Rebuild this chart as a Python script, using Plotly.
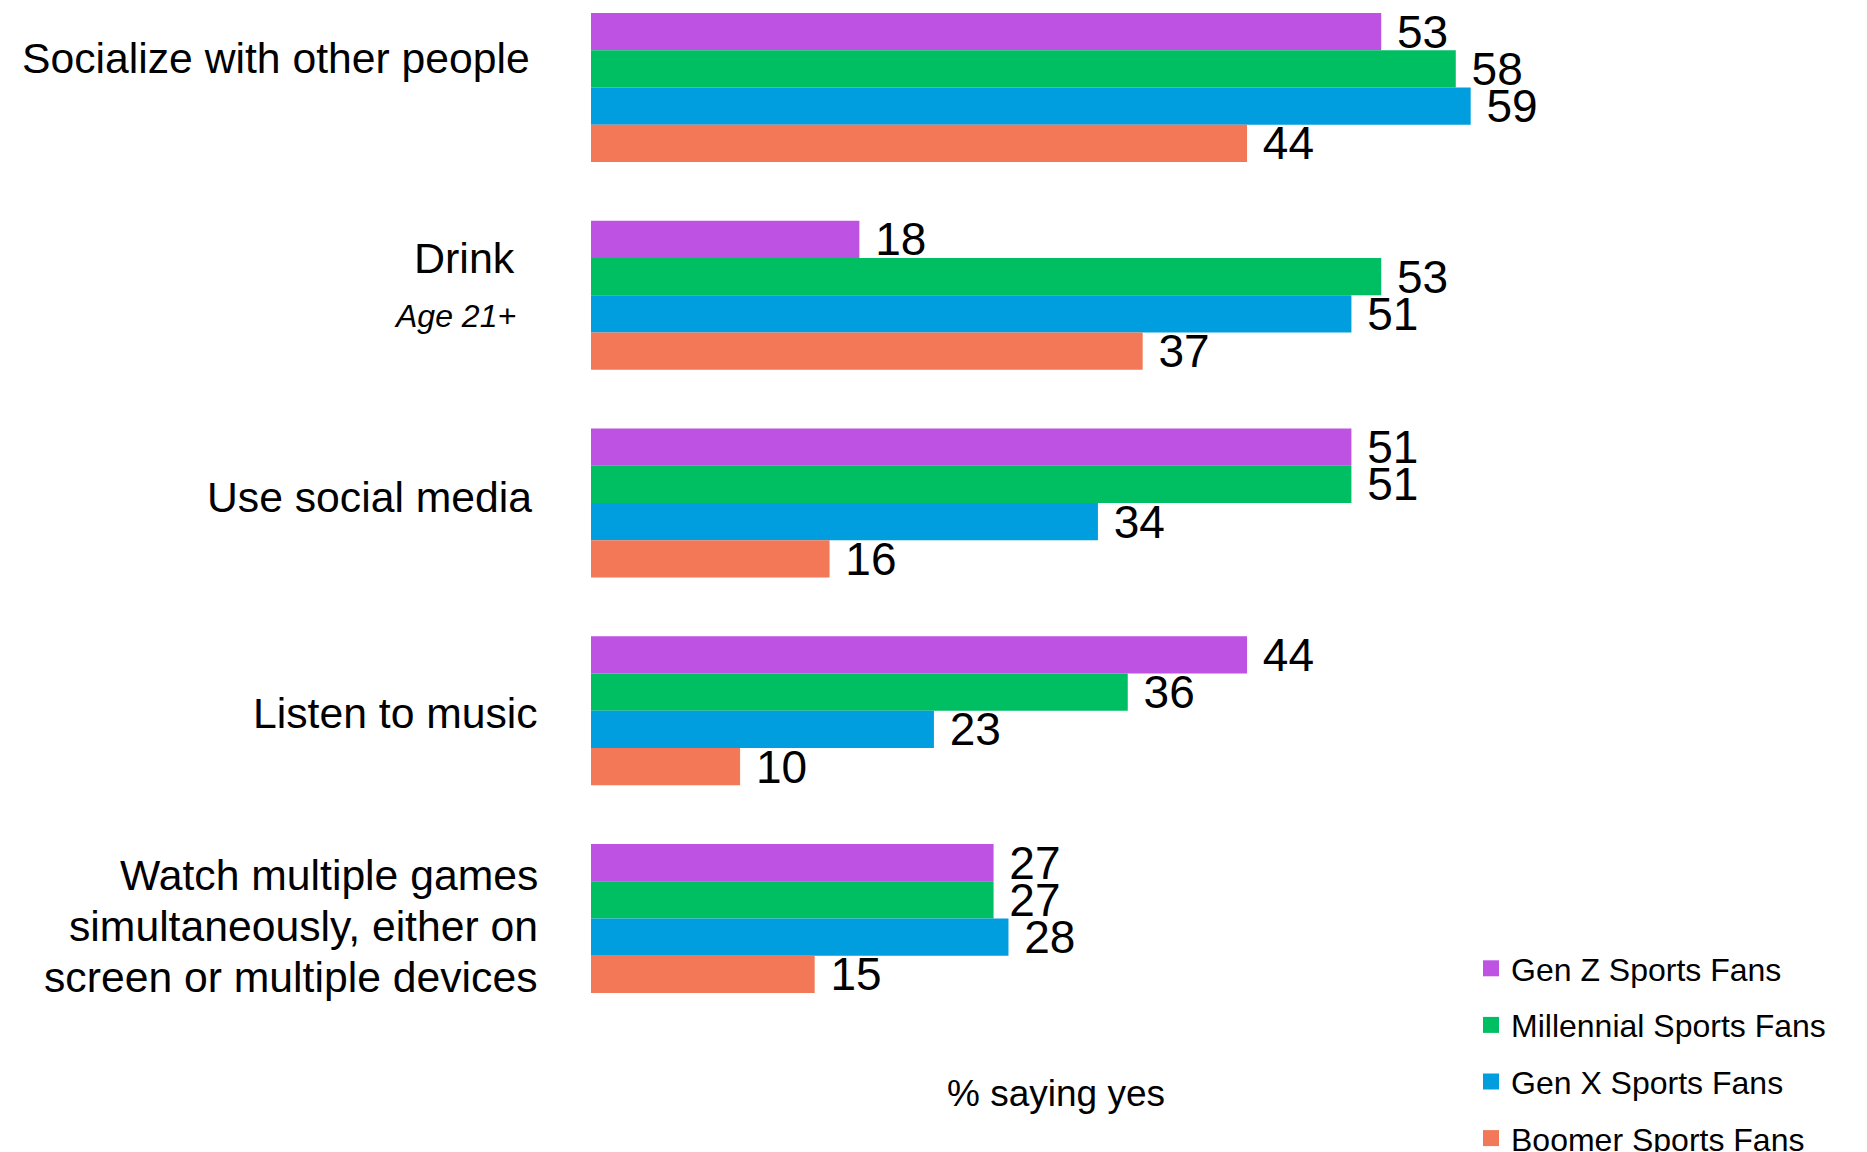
import plotly.graph_objects as go

categories = [
    "Socialize with other people",
    "Drink",
    "Use social media",
    "Listen to music",
    "Watch multiple games<br>simultaneously, either on<br>screen or multiple devices",
]
category_notes = ["", "Age 21+", "", "", ""]

series_names = [
    "Gen Z Sports Fans",
    "Millennial Sports Fans",
    "Gen X Sports Fans",
    "Boomer Sports Fans",
]
gen_z = [53, 18, 51, 44, 27]
millennial = [58, 53, 51, 36, 27]
gen_x = [59, 51, 34, 23, 28]
boomer = [44, 37, 16, 10, 15]

axis_title = "% saying yes"

colors = ["#BE52E2", "#00BF63", "#009EDE", "#F27857"]
series_values = [gen_z, millennial, gen_x, boomer]

FONT = "Liberation Sans, Arial, sans-serif"

# plot area geometry (figure pixels)
L, W = 583, 932
H = 1040


def px_x(fig_x):
    return (fig_x - L) / W


def px_y(fig_y):
    return 1 - fig_y / H


fig = go.Figure()
for i, (name, vals, col) in enumerate(zip(series_names, series_values, colors)):
    fig.add_trace(go.Bar(
        y=list(range(len(categories))),
        x=vals,
        name=name,
        orientation="h",
        marker=dict(color=col, line=dict(width=0)),
        texttemplate="\u00a0%{x}",
        textposition="outside",
        constraintext="none",
        cliponaxis=False,
        textfont=dict(family=FONT, size=46, color="black"),
        legendgroup=f"g{i}",
        showlegend=False,
        hoverinfo="skip",
    ))
    # legend entry with a larger square swatch
    fig.add_trace(go.Scatter(
        x=[None], y=[None], mode="markers", name=name,
        marker=dict(symbol="square", size=16, color=col, line=dict(width=0)),
        legendgroup=f"g{i}", showlegend=True, hoverinfo="skip",
    ))

# label layout: right edge (figure px) and vertical shift of each line
label_right = [524, 509, 526, 532, 532]
label_shift = [[30], [37], [6], [-2], [44, -7, -58]]
note_right = 510
note_shift = -21

annotations = []
for i, (cat, note) in enumerate(zip(categories, category_notes)):
    lines = cat.split("<br>")
    for line, ys in zip(lines, label_shift[i]):
        annotations.append(dict(
            x=px_x(label_right[i]), xref="paper", y=i, yref="y",
            text=line, showarrow=False, xanchor="right", yanchor="middle",
            yshift=ys, align="right",
            font=dict(family=FONT, size=43 if note else 42.7, color="black"),
        ))
    if note:
        annotations.append(dict(
            x=px_x(note_right), xref="paper", y=i, yref="y",
            text=f"<i>{note}</i>", showarrow=False, xanchor="right", yanchor="middle",
            yshift=note_shift, align="right",
            font=dict(family=FONT, size=32, color="black"),
        ))

annotations.append(dict(
    x=px_x(1048), xref="paper", y=px_y(1085), yref="paper",
    text=axis_title, showarrow=False, xanchor="center", yanchor="middle",
    font=dict(family=FONT, size=37, color="black"),
))

fig.update_layout(
    width=1867, height=1152,
    margin=dict(l=L, r=1867 - L - W, t=0, b=1152 - H, pad=0, autoexpand=False),
    paper_bgcolor="white", plot_bgcolor="white",
    barmode="group", bargap=0.283, bargroupgap=0,
    showlegend=True,
    legend=dict(
        x=px_x(1463), xanchor="left",
        y=px_y(933), yanchor="top",
        font=dict(family=FONT, size=32, color="black"),
        traceorder="grouped", tracegroupgap=12,
        itemsizing="trace",
        bgcolor="rgba(0,0,0,0)",
    ),
    xaxis=dict(range=[0, W / 14.91], visible=False, fixedrange=True),
    yaxis=dict(range=[-0.3827 + H / 207.75, -0.3827], visible=False, fixedrange=True),
    annotations=annotations,
    font=dict(family=FONT),
)

fig.write_html("out.html")
